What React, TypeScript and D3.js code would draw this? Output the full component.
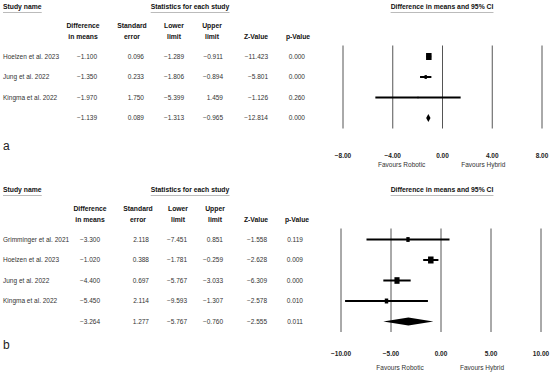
import React, { useEffect, useRef } from 'react'
import * as d3 from 'd3'

// panel a
const studiesA = ['Hoelzen et al. 2023', 'Jung et al. 2022', 'Kingma et al. 2022']
const diffA = [-1.100, -1.350, -1.970]
const seA = [0.096, 0.233, 1.750]
const lowerA = [-1.289, -1.806, -5.399]
const upperA = [-0.911, -0.894, 1.459]
const zA = [-11.423, -5.801, -1.126]
const pA = [0.000, 0.000, 0.260]
const weightA = [84, 15, 1]
// diff, se, lower, upper, z, p
const summaryA = [-1.139, 0.089, -1.313, -0.965, -12.814, 0.000]
const ticksA = [-8, -4, 0, 4, 8]

// panel b
const studiesB = ['Grimminger et al. 2021', 'Hoelzen et al. 2023', 'Jung et al. 2022', 'Kingma et al. 2022']
const diffB = [-3.300, -1.020, -4.400, -5.450]
const seB = [2.118, 0.388, 0.697, 2.114]
const lowerB = [-7.451, -1.781, -5.767, -9.593]
const upperB = [0.851, -0.259, -3.033, -1.307]
const zB = [-1.558, -2.628, -6.309, -2.578]
const pB = [0.119, 0.009, 0.000, 0.010]
const weightB = [14, 38, 33, 15]
const summaryB = [-3.264, 1.277, -5.767, -0.760, -2.555, 0.011]
const ticksB = [-10, -5, 0, 5, 10]

const FONT = "'Liberation Sans', Arial, sans-serif"

const drawPanel = (svg: any, cfg: any) => {
    const { top, names, diff, se, lower, upper, z, p, weight, summary, ticks, label, colHead, colVal, tickY, favY, letterY, xr } = cfg
    const g = svg.append('g').attr('transform', `translate(0,${top})`)
    const fmt3 = d3.format('.3f')
    const fmt2 = d3.format('.2f')

    // top headers, underlined
    const heads = [
        { t: 'Study name', x: 3, anchor: 'start' },
        { t: 'Statistics for each study', x: 190, anchor: 'middle' },
        { t: 'Difference in means and 95% CI', x: 442, anchor: 'middle' },
    ]
    heads.forEach(h => {
        const tx = g.append('text').attr('x', h.x).attr('y', 7).attr('dy', '0.35em')
            .attr('text-anchor', h.anchor).attr('font-weight', 'bold').attr('font-size', 6.8)
            .attr('fill', '#111').text(h.t)
        const bb = (tx.node() as SVGTextElement).getBBox()
        g.append('line').attr('x1', bb.x).attr('x2', bb.x + bb.width)
            .attr('y1', 12.5).attr('y2', 12.5).attr('stroke', '#aaa').attr('stroke-width', 0.8)
    })

    // column headers
    const colLines = [
        ['Difference', 'in means'], ['Standard', 'error'], ['Lower', 'limit'],
        ['Upper', 'limit'], ['', 'Z-Value'], ['', 'p-Value'],
    ]
    colLines.forEach((c, i) => {
        c.forEach((t, j) => {
            if (!t) return
            g.append('text').attr('x', colHead[i]).attr('y', j === 0 ? 26 : 36.5).attr('dy', '0.35em')
                .attr('text-anchor', 'middle').attr('font-weight', 'bold').attr('font-size', 6.8)
                .attr('fill', '#111').text(t)
        })
    })

    const n = names.length
    const y = d3.scaleLinear().domain([0, n]).range([56.5, 56.5 + n * 20.5])
    const x = d3.scaleLinear().domain([ticks[0], ticks[ticks.length - 1]]).range(xr)

    // table rows
    const rows = names.map((nm: string, i: number) => [nm, diff[i], se[i], lower[i], upper[i], z[i], p[i]])
    rows.push(['', ...summary])
    rows.forEach((r: any[], i: number) => {
        if (r[0]) {
            g.append('text').attr('x', 3).attr('y', y(i)).attr('dy', '0.35em')
                .attr('font-size', 6.5).attr('fill', '#333').text(r[0])
        }
        r.slice(1).forEach((v: number, j: number) => {
            g.append('text').attr('x', colVal[j]).attr('y', y(i)).attr('dy', '0.35em')
                .attr('text-anchor', 'end').attr('font-size', 6.5).attr('fill', '#333').text(fmt3(v))
        })
    })

    // vertical reference lines
    const y0 = y(0) - 11
    const y1 = y(n) + 10.5
    g.selectAll('.vl').data(ticks).enter().append('line')
        .attr('x1', (d: number) => x(d)).attr('x2', (d: number) => x(d))
        .attr('y1', y0).attr('y2', y1).attr('stroke', '#555').attr('stroke-width', 1)

    // confidence intervals
    g.selectAll('.ci').data(d3.range(n)).enter().append('line')
        .attr('x1', (i: number) => x(lower[i])).attr('x2', (i: number) => x(upper[i]))
        .attr('y1', (i: number) => y(i)).attr('y2', (i: number) => y(i))
        .attr('stroke', '#000').attr('stroke-width', 2)

    const box = d3.scaleSqrt().domain([0, d3.max(weight) as number]).range([0, 5.5])
    g.selectAll('.bx').data(d3.range(n)).enter().append('rect')
        .attr('x', (i: number) => x(diff[i]) - box(weight[i]) / 2)
        .attr('y', (i: number) => y(i) - (box(weight[i]) + 1.5) / 2)
        .attr('width', (i: number) => box(weight[i]))
        .attr('height', (i: number) => box(weight[i]) + 1.5)
        .attr('fill', '#000')

    // summary diamond
    const sy = y(n)
    const dpath = d3.path()
    dpath.moveTo(x(summary[2]), sy)
    dpath.lineTo(x(summary[0]), sy - 4)
    dpath.lineTo(x(summary[3]), sy)
    dpath.lineTo(x(summary[0]), sy + 4)
    dpath.closePath()
    g.append('path').attr('d', dpath.toString()).attr('fill', '#000')

    // axis labels
    g.selectAll('.tk').data(ticks).enter().append('text')
        .attr('x', (d: number) => x(d)).attr('y', tickY).attr('dy', '0.35em')
        .attr('text-anchor', 'middle').attr('font-weight', 'bold').attr('font-size', 6.5)
        .attr('fill', '#222').text((d: number) => fmt2(d))

    const span = xr[1] - xr[0]
    g.append('text').attr('x', x(0) - span * 0.205).attr('y', favY).attr('dy', '0.35em')
        .attr('text-anchor', 'middle').attr('font-size', 6.5).attr('fill', '#333').text('Favours Robotic')
    g.append('text').attr('x', x(0) + span * 0.205).attr('y', favY).attr('dy', '0.35em')
        .attr('text-anchor', 'middle').attr('font-size', 6.5).attr('fill', '#333').text('Favours Hybrid')

    // panel letter
    g.append('text').attr('x', 3).attr('y', letterY).attr('dy', '0.35em')
        .attr('font-size', 12).attr('fill', '#222').text(label)
}

const App = () => {
    const ref = useRef<SVGSVGElement>(null)

    useEffect(() => {
        const svg = d3.select(ref.current)
        svg.selectAll('*').remove()
        svg.attr('font-family', FONT)

        drawPanel(svg, {
            top: 0, names: studiesA, diff: diffA, se: seA, lower: lowerA, upper: upperA,
            z: zA, p: pA, weight: weightA, summary: summaryA, ticks: ticksA, label: 'a',
            colHead: [83, 132, 174, 212, 256, 298],
            colVal: [97, 144, 184, 223, 268, 305],
            tickY: 156, favY: 165, letterY: 146, xr: [343, 542],
        })
        drawPanel(svg, {
            top: 183, names: studiesB, diff: diffB, se: seB, lower: lowerB, upper: upperB,
            z: zB, p: pB, weight: weightB, summary: summaryB, ticks: ticksB, label: 'b',
            colHead: [90, 138, 178, 215, 256, 297],
            colVal: [100, 149, 187, 223, 267, 303],
            tickY: 171, favY: 185, letterY: 162, xr: [341, 541],
        })
    }, [])

    return (
        <svg ref={ref} width={550} height={374}
            style={{ position: 'absolute', left: 0, top: 0, background: '#fff' }} />
    )
}

export default App
